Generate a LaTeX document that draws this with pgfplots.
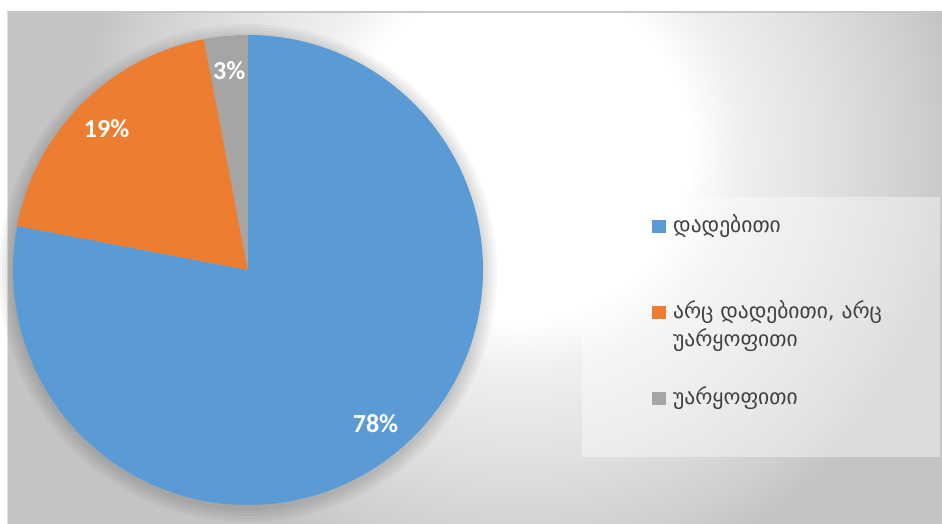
\documentclass[border=0pt]{standalone}
\usepackage{fontspec}
\usepackage{pgfplots}
\usepackage{pgfplotstable}
\pgfplotsset{compat=1.18}
\setmainfont{Carlito}
\newfontfamily\geofont{DejaVu Sans}

\definecolor{pieblue}{HTML}{5B9BD5}
\definecolor{pieorange}{HTML}{ED7D31}
\definecolor{piegray}{HTML}{A5A5A5}
\definecolor{legtext}{HTML}{404040}
\definecolor{bg94}{gray}{0.94}
\definecolor{bg88}{gray}{0.88}
\definecolor{bg81}{gray}{0.81}
\definecolor{bg77}{gray}{0.77}
\definecolor{bgline}{gray}{0.78}

% path bbox is fitted to the inner 50bp, so 25bp = circle edge
\pgfdeclareradialshading{chartbg}{\pgfpoint{0bp}{0bp}}{%
  color(0bp)=(white); color(8.5bp)=(white); color(11bp)=(bg94);
  color(15.5bp)=(bg88); color(20bp)=(bg81); color(22bp)=(bg77);
  color(25bp)=(bg77); color(50bp)=(bg77)}

% shares in percent
\pgfplotstableread{
share
78
19
3
}\piedata

\begin{document}
\begin{tikzpicture}
\pgfplotstablegetelem{0}{share}\of\piedata \let\sA\pgfplotsretval
\pgfplotstablegetelem{1}{share}\of\piedata \let\sB\pgfplotsretval
\pgfplotstablegetelem{2}{share}\of\piedata \let\sC\pgfplotsretval
\pgfmathsetmacro\aA{90}
\pgfmathsetmacro\aB{\aA-3.6*\sA}
\pgfmathsetmacro\aC{\aB-3.6*\sB}
\pgfmathsetmacro\aD{\aC-3.6*\sC}
\pgfmathsetmacro\mA{(\aA+\aB)/2}
\pgfmathsetmacro\mB{(\aB+\aC)/2}
\pgfmathsetmacro\mC{(\aC+\aD)/2}
\begin{axis}[
    hide axis,
    scale only axis,
    width=942pt, height=524pt,
    xmin=0, xmax=942, ymin=0, ymax=524,
]
% chart area
\fill[white] (axis cs:0,0) rectangle (axis cs:942,524);
\begin{scope}
  \clip (axis cs:7,0) rectangle (axis cs:942,512);
  \fill[bg77] (axis cs:7,0) rectangle (axis cs:942,512);
  \shade[shading=chartbg, overlay] (axis cs:520,374) circle (500pt);
\end{scope}
\draw[bgline, line width=1.5pt] (axis cs:7,512) -- (axis cs:942,512);
\draw[white!88!black, line width=1pt] (axis cs:7.5,0) -- (axis cs:7.5,512);

% soft shadow
\fill[black, opacity=0.03] (axis cs:248,251) circle (249pt);
\fill[black, opacity=0.03] (axis cs:248,251) circle (246pt);
\fill[black, opacity=0.03] (axis cs:248,251) circle (243pt);
\fill[black, opacity=0.03] (axis cs:248,251) circle (240pt);
\fill[black, opacity=0.03] (axis cs:248,251) circle (237pt);

% slices
\fill[pieblue] (axis cs:248,254) -- ++(\aA:235pt) arc[start angle=\aA, end angle=\aB, radius=235pt] -- cycle;
\fill[pieorange] (axis cs:248,254) -- ++(\aB:235pt) arc[start angle=\aB, end angle=\aC, radius=235pt] -- cycle;
\fill[piegray] (axis cs:248,254) -- ++(\aC:235pt) arc[start angle=\aC, end angle=\aD, radius=235pt] -- cycle;

% data labels
\path (axis cs:248,254) ++(\mA:200pt) node[text=white, font=\fontsize{26}{30}\selectfont\bfseries] {\sA\%};
\path (axis cs:248,254) ++(\mB:200pt) node[text=white, font=\fontsize{26}{30}\selectfont\bfseries] {\sB\%};
\path (axis cs:248,254) ++(\mC:200pt) node[text=white, font=\fontsize{26}{30}\selectfont\bfseries] {\sC\%};

% legend
\fill[white, opacity=0.4] (axis cs:582,67) rectangle (axis cs:940,327);
\fill[pieblue] (axis cs:652,291) rectangle (axis cs:666,304);
\fill[pieorange] (axis cs:652,205) rectangle (axis cs:666,218);
\fill[piegray] (axis cs:652,119) rectangle (axis cs:666,132);
\begin{scope}[every node/.style={anchor=base west, inner sep=0pt, text=legtext, font=\geofont\fontsize{21.5}{27}\selectfont}]
\node at (axis cs:673,291) {დადებითი};
\node at (axis cs:673,205) {არც დადებითი, არც};
\node at (axis cs:673,177) {უარყოფითი};
\node at (axis cs:673,119) {უარყოფითი};
\end{scope}
\end{axis}
\end{tikzpicture}
\end{document}
